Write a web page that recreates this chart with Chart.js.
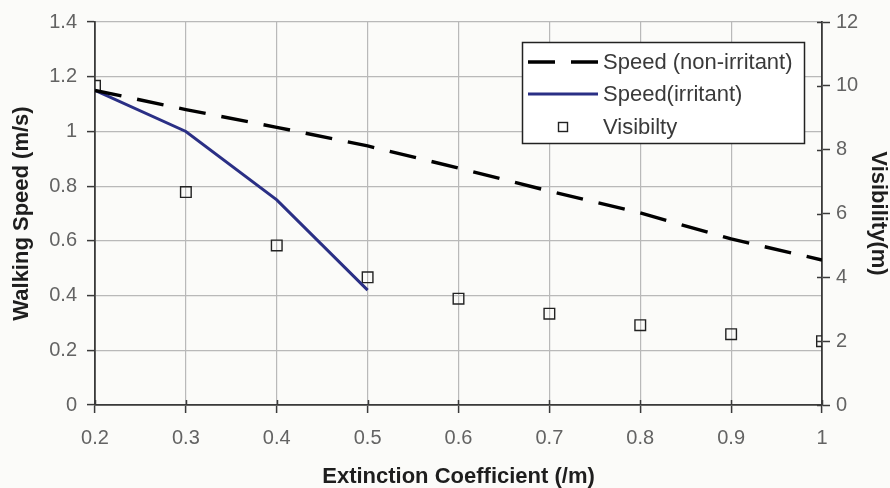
<!DOCTYPE html>
<html>
<head>
<meta charset="utf-8">
<script src="https://cdn.jsdelivr.net/npm/chart.js@4/dist/chart.umd.min.js"></script>
<style>
  html, body { margin: 0; padding: 0; background: #fbfbf9; }
  #wrap { width: 890px; height: 488px; position: relative; }
</style>
</head>
<body>
<div id="wrap"><canvas id="c" width="890" height="488"></canvas></div>
<script>
// Extinction coefficient (/m)
const extinction = [0.2, 0.3, 0.4, 0.5, 0.6, 0.7, 0.8, 0.9, 1.0];
// Walking speed (m/s) in non-irritant smoke
const speedNonIrritant = [1.15, 1.08, 1.015, 0.947, 0.866, 0.782, 0.702, 0.607, 0.53];
// Walking speed (m/s) in irritant smoke (measured up to 0.5 /m)
const speedIrritant = [1.15, 1.0, 0.75, 0.42];
// Visibility (m)
const visibility = [10, 6.67, 5, 4, 3.33, 2.86, 2.5, 2.22, 2];

const xTicks = [0.2, 0.3, 0.4, 0.5, 0.6, 0.7, 0.8, 0.9, 1];
const speedTicks = [0, 0.2, 0.4, 0.6, 0.8, 1, 1.2, 1.4];
const visTicks = [0, 2, 4, 6, 8, 10, 12];

const seriesNames = ['Speed (non-irritant)', 'Speed(irritant)', 'Visibilty'];

const toXY = (xs, ys) => ys.map((y, i) => ({ x: xs[i], y }));
const fmt = v => String(+(+v).toFixed(2));

const FAMILY = 'Liberation Sans, Arial, sans-serif';
const tickFont = { family: FAMILY, size: 20, lineHeight: 1.1 };
const titleFont = { family: FAMILY, size: 22, weight: 'bold', lineHeight: 1.0 };
const tickColor = '#636363';
const titleColor = '#1e1e1e';
const gridColor = '#b9b9b9';
const axisColor = '#3a3a3a';

// Short tick segments reaching into the plot (x and right axes)
const innerTicks = {
  id: 'innerTicks',
  afterDatasetsDraw(chart) {
    const { ctx, chartArea, scales } = chart;
    ctx.save();
    ctx.strokeStyle = axisColor;
    ctx.lineWidth = 1.5;
    scales.x.ticks.forEach(t => {
      const px = Math.round(scales.x.getPixelForValue(t.value)) + 0.5;
      ctx.beginPath();
      ctx.moveTo(px, chartArea.bottom);
      ctx.lineTo(px, chartArea.bottom - 5);
      ctx.stroke();
    });
    scales.y2.ticks.forEach(t => {
      const py = Math.round(scales.y2.getPixelForValue(t.value)) + 0.5;
      ctx.beginPath();
      ctx.moveTo(chartArea.right, py);
      ctx.lineTo(chartArea.right - 5, py);
      ctx.stroke();
    });
    ctx.restore();
  }
};

// Boxed legend inside the plot, upper right
const boxLegend = {
  id: 'boxLegend',
  afterDraw(chart) {
    const { ctx, chartArea } = chart;
    const w = 282, h = 101;
    const left = chartArea.right - 18 - w;
    const top = chartArea.top + 20;
    ctx.save();
    ctx.fillStyle = '#ffffff';
    ctx.fillRect(left, top, w, h);
    ctx.strokeStyle = '#222';
    ctx.lineWidth = 1.5;
    ctx.strokeRect(left + 0.5, top + 0.5, w, h);

    const rows = [top + 20, top + 52, top + 85];
    const sx0 = left + 6, sx1 = left + 76, textX = left + 81;
    ctx.font = '22px ' + FAMILY;
    ctx.textBaseline = 'middle';
    ctx.textAlign = 'left';

    chart.data.datasets.forEach((ds, i) => {
      const y = rows[i];
      if (ds.showLine !== false) {
        ctx.strokeStyle = ds.borderColor;
        ctx.lineWidth = ds.borderWidth;
        ctx.setLineDash(ds.borderDash || []);
        ctx.lineDashOffset = 0;
        ctx.beginPath();
        ctx.moveTo(sx0, y);
        ctx.lineTo(sx1, y);
        ctx.stroke();
        ctx.setLineDash([]);
      } else {
        ctx.strokeStyle = ds.pointBorderColor;
        ctx.lineWidth = 1.4;
        const cx = (sx0 + sx1) / 2, s = 9;
        ctx.strokeRect(cx - s / 2, y - s / 2, s, s);
      }
      ctx.fillStyle = '#3a3a3a';
      ctx.fillText(ds.label, textX, y + 1);
    });
    ctx.restore();
  }
};

new Chart(document.getElementById('c'), {
  type: 'scatter',
  data: {
    datasets: [
      {
        label: seriesNames[0],
        data: toXY(extinction, speedNonIrritant),
        showLine: true,
        borderColor: '#000000',
        borderWidth: 3.4,
        borderDash: [27, 16],
        pointRadius: 0,
        yAxisID: 'y'
      },
      {
        label: seriesNames[1],
        data: toXY(extinction, speedIrritant),
        showLine: true,
        borderColor: '#2a2f85',
        borderWidth: 3,
        pointRadius: 0,
        yAxisID: 'y'
      },
      {
        label: seriesNames[2],
        data: toXY(extinction, visibility),
        showLine: false,
        pointStyle: 'rect',
        pointRadius: 7.5,
        pointBorderWidth: 1.4,
        pointBorderColor: '#222',
        pointBackgroundColor: 'rgba(0,0,0,0)',
        yAxisID: 'y2'
      }
    ]
  },
  plugins: [innerTicks, boxLegend],
  options: {
    responsive: false,
    animation: false,
    events: [],
    layout: { padding: { top: 22, right: 0, bottom: 0, left: 0 } },
    plugins: { legend: { display: false }, tooltip: { enabled: false } },
    scales: {
      x: {
        type: 'linear',
        min: 0.2, max: 1,
        afterBuildTicks: s => { s.ticks = xTicks.map(v => ({ value: v })); },
        afterFit: s => { s.height = 83; },
        ticks: { font: tickFont, color: tickColor, padding: 14, callback: fmt, maxRotation: 0 },
        grid: { color: gridColor, lineWidth: 1.2, tickLength: 8, tickColor: axisColor, tickWidth: 1.5 },
        border: { color: axisColor, width: 1.8 },
        title: { display: true, text: 'Extinction Coefficient (/m)', font: titleFont, color: titleColor, padding: { top: 0, bottom: 0 } }
      },
      y: {
        type: 'linear',
        position: 'left',
        min: 0, max: 1.4,
        afterBuildTicks: s => { s.ticks = speedTicks.map(v => ({ value: v })); },
        afterFit: s => { s.width = 95; },
        ticks: { font: tickFont, color: tickColor, padding: 10, callback: fmt },
        grid: { color: gridColor, lineWidth: 1.2, tickLength: 8, tickColor: axisColor, tickWidth: 1.5 },
        border: { color: axisColor, width: 1.8 },
        title: { display: true, text: 'Walking Speed (m/s)', font: titleFont, color: titleColor, padding: { top: 11, bottom: 0 } }
      },
      y2: {
        type: 'linear',
        position: 'right',
        min: 0, max: 12,
        afterBuildTicks: s => { s.ticks = visTicks.map(v => ({ value: v })); },
        afterFit: s => { s.width = 68; },
        ticks: { font: tickFont, color: tickColor, padding: 6, callback: fmt },
        grid: { drawOnChartArea: false, tickLength: 8, tickColor: axisColor, tickWidth: 1.5 },
        border: { color: axisColor, width: 1.8 },
        title: { display: true, text: 'Visibility(m)', font: titleFont, color: titleColor, padding: { top: 1, bottom: 0 } }
      }
    }
  }
});
</script>
</body>
</html>
